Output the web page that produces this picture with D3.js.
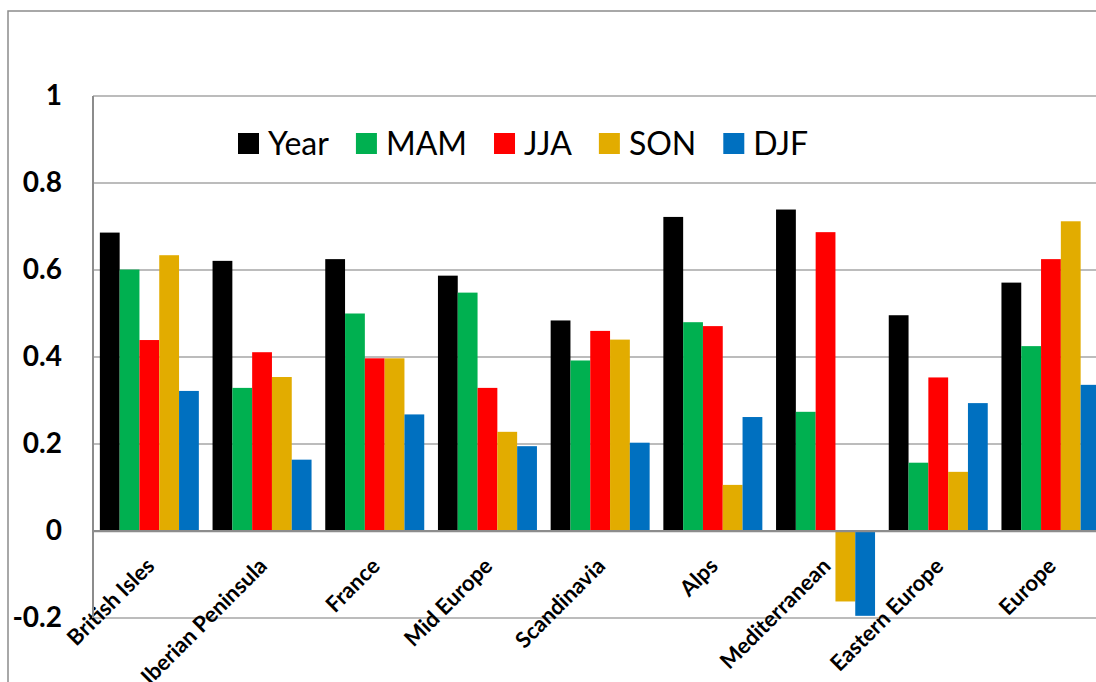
<!DOCTYPE html>
<html>
<head>
<meta charset="utf-8">
<script src="https://cdn.jsdelivr.net/npm/d3@7"></script>
<style>
  html, body { margin: 0; padding: 0; background: #ffffff; }
  svg { display: block; }
</style>
</head>
<body>
<svg id="chart" width="1096" height="682"></svg>
<script>
// Regions along the x axis
const regions = ["British Isles", "Iberian Peninsula", "France", "Mid Europe", "Scandinavia",
                 "Alps", "Mediterranean", "Eastern Europe", "Europe"];
// Season / annual series
const seriesNames = ["Year", "MAM", "JJA", "SON", "DJF"];
const yearValues = [0.686, 0.621, 0.625, 0.587, 0.484, 0.722, 0.739, 0.496, 0.571];
const mamValues  = [0.601, 0.329, 0.500, 0.548, 0.392, 0.480, 0.274, 0.157, 0.425];
const jjaValues  = [0.439, 0.411, 0.397, 0.329, 0.460, 0.471, 0.687, 0.353, 0.625];
const sonValues  = [0.634, 0.354, 0.397, 0.228, 0.440, 0.106, -0.162, 0.136, 0.712];
const djfValues  = [0.322, 0.164, 0.268, 0.195, 0.203, 0.262, -0.195, 0.294, 0.336];
const seriesColors = ["#000000", "#00b050", "#ff0000", "#e2ac00", "#0070c0"];
// Value axis ticks
const yTicks = [-0.2, 0, 0.2, 0.4, 0.6, 0.8, 1];
const yTickLabels = ["-0.2", "0", "0.2", "0.4", "0.6", "0.8", "1"];

const seriesValues = [yearValues, mamValues, jjaValues, sonValues, djfValues];
const rows = regions.map((r, i) => ({
  region: r,
  values: seriesNames.map((s, k) => ({ key: s, value: seriesValues[k][i], color: seriesColors[k] }))
}));

const svg = d3.select("#chart");
const plotLeft = 93, plotTop = 96, plotBottom = 618;
const groupStep = 112.7;
const plotRight = plotLeft + groupStep * regions.length;

// Outer chart frame (runs past the right and bottom edges)
svg.append("rect")
  .attr("x", 8).attr("y", 11)
  .attr("width", 1200).attr("height", 800)
  .attr("fill", "none").attr("stroke", "#8c8c8c").attr("stroke-width", 1.5);

const x = d3.scaleBand().domain(regions).range([plotLeft, plotRight])
  .paddingInner(0.1216).paddingOuter(0.0608);
const xInner = d3.scaleBand().domain(seriesNames).range([0, x.bandwidth()]).padding(0);
const y = d3.scaleLinear().domain([-0.2, 1]).range([plotBottom, plotTop]);

// Horizontal gridlines
svg.append("g").selectAll("line")
  .data(yTicks.filter(t => t !== 0))
  .join("line")
  .attr("x1", plotLeft).attr("x2", plotRight)
  .attr("y1", d => y(d)).attr("y2", d => y(d))
  .attr("stroke", "#a6a6a6").attr("stroke-width", 1.5);

// Bars
const groups = svg.append("g").selectAll("g")
  .data(rows)
  .join("g")
  .attr("transform", d => `translate(${x(d.region)},0)`);

groups.selectAll("rect")
  .data(d => d.values)
  .join("rect")
  .attr("x", d => xInner(d.key))
  .attr("width", xInner.bandwidth())
  .attr("y", d => y(Math.max(0, d.value)))
  .attr("height", d => Math.abs(y(d.value) - y(0)))
  .attr("fill", d => d.color);

// Zero line (category axis)
const xAxis = d3.axisBottom(x).tickSize(0).tickPadding(0);
const xAxisG = svg.append("g")
  .attr("transform", `translate(0,${y(0)})`)
  .call(xAxis);
xAxisG.select(".domain")
  .attr("d", `M${plotLeft},0H${plotRight}`)
  .attr("stroke", "#8c8c8c").attr("stroke-width", 2.25);
xAxisG.selectAll(".tick text")
  .attr("font-family", "Lato, 'DejaVu Sans', sans-serif")
  .attr("font-weight", "bold")
  .attr("font-size", 22)
  .attr("fill", "#000")
  .attr("text-anchor", "end")
  .attr("x", 0).attr("y", 0).attr("dy", "0.35em")
  .attr("transform", "translate(1,31) rotate(-45)");

// Value axis
const yAxis = d3.axisLeft(y).tickValues(yTicks).tickSize(0).tickPadding(31)
  .tickFormat((d, i) => yTickLabels[i]);
const yAxisG = svg.append("g")
  .attr("transform", `translate(${plotLeft},0)`)
  .call(yAxis);
yAxisG.select(".domain")
  .attr("d", `M0,${plotTop}V${plotBottom}`)
  .attr("stroke", "#8c8c8c").attr("stroke-width", 2);
yAxisG.selectAll(".tick text")
  .attr("font-family", "Lato, 'DejaVu Sans', sans-serif")
  .attr("font-weight", "bold")
  .attr("font-size", 28)
  .attr("fill", "#000");

// Legend
const legend = svg.append("g").attr("transform", "translate(238,133)");
let lx = 0;
seriesNames.forEach((name, k) => {
  const item = legend.append("g").attr("transform", `translate(${lx},0)`);
  item.append("rect").attr("width", 21).attr("height", 21).attr("fill", seriesColors[k]);
  const t = item.append("text")
    .attr("x", 30).attr("y", 10.5).attr("dy", "0.36em")
    .attr("font-family", "Lato, 'DejaVu Sans', sans-serif")
    .attr("font-size", 32)
    .attr("fill", "#000")
    .text(name);
  lx += 30 + t.node().getComputedTextLength() + 27;
});
</script>
</body>
</html>
